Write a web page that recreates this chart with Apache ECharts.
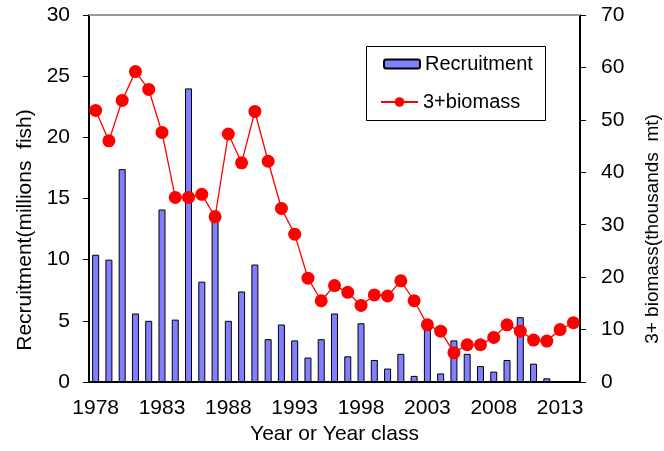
<html>
<head>
    <meta charset="utf-8">
    <script src="https://cdn.jsdelivr.net/npm/echarts@6/dist/echarts.min.js"></script>
</head>
<body style="height: 100%; margin: 0">
    <div id="container" style="width: 664px; height: 451px"></div>
    <script>
        // years 1978..2014
        var years = [];
        for (var y = 1978; y <= 2014; y++) years.push(String(y));

        // recruitment (millions fish)
        var recruitment = [10.4, 10.0, 17.4, 5.6, 5.0, 14.1, 5.1, 24.0, 8.2, 14.0,
            5.0, 7.4, 9.6, 3.5, 4.7, 3.4, 2.0, 3.5, 5.6, 2.1,
            4.8, 1.8, 1.1, 2.3, 0.5, 4.5, 0.7, 3.4, 2.3, 1.3,
            0.85, 1.8, 5.3, 1.5, 0.3, null, null];

        // 3+ biomass (thousands mt)
        var biomass = [51.8, 46.0, 53.7, 59.2, 55.8, 47.6, 35.2, 35.2, 35.8, 31.5,
            47.3, 41.8, 51.6, 42.1, 33.1, 28.2, 19.8, 15.5, 18.4, 17.1,
            14.6, 16.6, 16.4, 19.3, 15.5, 10.9, 9.7, 5.6, 7.1, 7.1,
            8.5, 10.9, 9.7, 8.0, 7.8, 10.0, 11.3];

        var font = 'Liberation Sans';
        var myChart = echarts.init(document.getElementById('container'));

        var option = {
            animation: false,
            textStyle: { fontFamily: font, color: '#000' },
            grid: { left: 89, right: 84, top: 15, bottom: 69, outerBoundsMode: 'none' },
            legend: [{
                left: 383, top: 54, padding: 0,
                itemWidth: 36, itemHeight: 9,
                textStyle: { fontSize: 20, color: '#000', fontFamily: font },
                data: ['Recruitment']
            }, {
                left: 380, top: 92, padding: 0,
                itemWidth: 37, itemHeight: 12,
                textStyle: { fontSize: 20, color: '#000', fontFamily: font },
                data: ['3+biomass']
            }],
            graphic: [{
                type: 'rect',
                shape: { x: 366.5, y: 46.5, width: 179, height: 74 },
                style: { fill: 'none', stroke: '#000', lineWidth: 1 },
                z: 10
            }],
            xAxis: [{
                type: 'category',
                data: years,
                name: 'Year or Year class',
                nameLocation: 'middle',
                nameGap: 42,
                nameTextStyle: { fontSize: 21, color: '#000', fontFamily: font },
                axisLine: { lineStyle: { color: '#000', width: 2 } },
                axisTick: { interval: 0, length: 6, lineStyle: { color: '#000' } },
                axisLabel: { interval: 4, fontSize: 21, color: '#000', margin: 16, fontFamily: font }
            }, {
                type: 'category',
                data: years,
                position: 'top',
                axisLine: { onZero: false, lineStyle: { color: '#999', width: 2 } },
                axisTick: { show: false },
                axisLabel: { show: false }
            }],
            yAxis: [{
                type: 'value',
                min: 0, max: 30, interval: 5,
                name: 'Recruitment(millions  fish)',
                nameLocation: 'middle',
                nameRotate: 90,
                nameGap: 49,
                nameTextStyle: { fontSize: 21, color: '#000', fontFamily: font, padding: [0, 63, 0, 0] },
                axisLine: { show: true, lineStyle: { color: '#000', width: 2 } },
                axisTick: { show: true, length: 6, lineStyle: { color: '#000' } },
                axisLabel: { fontSize: 21, color: '#000', margin: 19, fontFamily: font },
                splitLine: { show: false }
            }, {
                type: 'value',
                position: 'right',
                min: 0, max: 70, interval: 10,
                name: '3+ biomass(thousands  mt)',
                nameLocation: 'middle',
                nameRotate: 90,
                nameGap: 63,
                nameTextStyle: { fontSize: 19, color: '#000', fontFamily: font, padding: [0, 61, 0, 0] },
                axisLine: { show: true, lineStyle: { color: '#000', width: 2 } },
                axisTick: { show: true, length: 6, lineStyle: { color: '#000' } },
                axisLabel: { fontSize: 21, color: '#000', margin: 21, fontFamily: font },
                splitLine: { show: false }
            }],
            series: [{
                name: 'Recruitment',
                type: 'bar',
                yAxisIndex: 0,
                barWidth: 7,
                itemStyle: { color: '#7f7fff', borderColor: '#000', borderWidth: 1 },
                data: recruitment
            }, {
                name: '3+biomass',
                type: 'line',
                yAxisIndex: 1,
                symbol: 'circle',
                symbolSize: 13,
                showAllSymbol: true,
                lineStyle: { color: '#ff0000', width: 1.3 },
                itemStyle: { color: '#ff0000' },
                data: biomass
            }]
        };

        myChart.setOption(option);
    </script>
</body>
</html>
